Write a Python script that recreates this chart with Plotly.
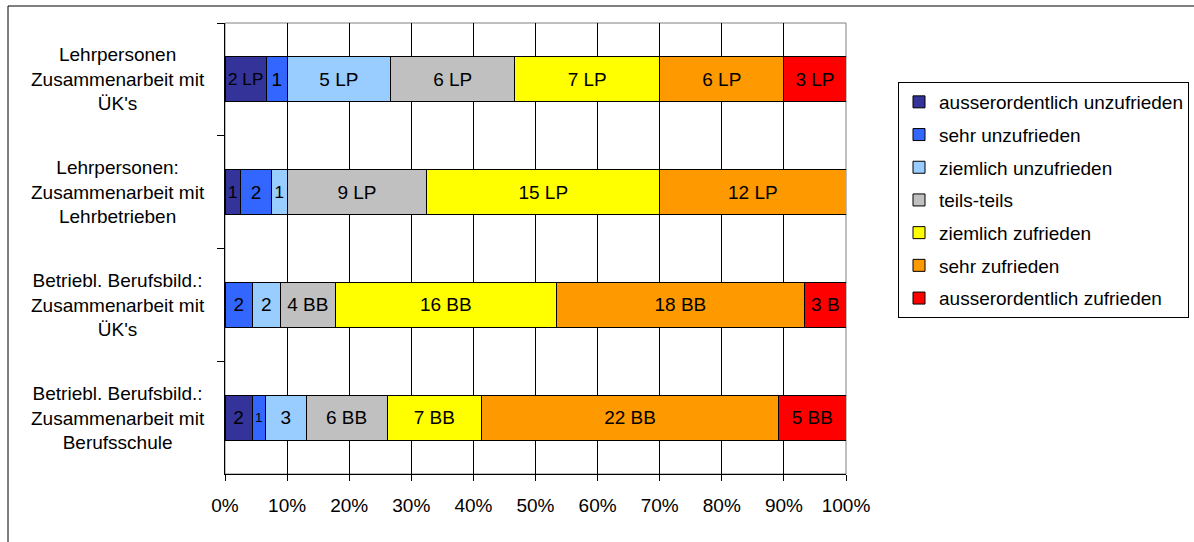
import plotly.graph_objects as go

categories = [
    "Lehrpersonen<br>Zusammenarbeit mit<br>ÜK's",
    "Lehrpersonen:<br>Zusammenarbeit mit<br>Lehrbetrieben",
    "Betriebl. Berufsbild.:<br>Zusammenarbeit mit<br>ÜK's",
    "Betriebl. Berufsbild.:<br>Zusammenarbeit mit<br>Berufsschule",
]

levels = [
    "ausserordentlich unzufrieden",
    "sehr unzufrieden",
    "ziemlich unzufrieden",
    "teils-teils",
    "ziemlich zufrieden",
    "sehr zufrieden",
    "ausserordentlich zufrieden",
]
colors = ["#333399", "#3366FF", "#99CCFF", "#C0C0C0", "#FFFF00", "#FF9900", "#FF0000"]

ao_unzufrieden = [2, 1, 0, 2]
sehr_unzufrieden = [1, 2, 2, 1]
ziemlich_unzufrieden = [5, 1, 2, 3]
teils_teils = [6, 9, 4, 6]
ziemlich_zufrieden = [7, 15, 16, 7]
sehr_zufrieden = [6, 12, 18, 22]
ao_zufrieden = [3, 0, 3, 5]

lbl_ao_unz = ["2 LP", "1", "", "2"]
lbl_sehr_unz = ["1", "2", "2", "1"]
lbl_zieml_unz = ["5 LP", "1", "2", "3"]
lbl_teils = ["6 LP", "9 LP", "4 BB", "6 BB"]
lbl_zieml_zuf = ["7 LP", "15 LP", "16 BB", "7 BB"]
lbl_sehr_zuf = ["6 LP", "12 LP", "18 BB", "22 BB"]
lbl_ao_zuf = ["3 LP", "", "3 B", "5 BB"]

series = [ao_unzufrieden, sehr_unzufrieden, ziemlich_unzufrieden, teils_teils,
          ziemlich_zufrieden, sehr_zufrieden, ao_zufrieden]
labels = [lbl_ao_unz, lbl_sehr_unz, lbl_zieml_unz, lbl_teils,
          lbl_zieml_zuf, lbl_sehr_zuf, lbl_ao_zuf]

FONT = "Liberation Sans, Arial, sans-serif"
FS = 19

fig = go.Figure()
for name, vals, txt, col in zip(levels, series, labels, colors):
    fig.add_trace(go.Bar(
        y=categories, x=vals, name=name, orientation="h",
        text=txt, textposition="inside", insidetextanchor="middle",
        textangle=0,
        textfont=dict(family=FONT, size=FS, color="black"),
        marker=dict(color=col, line=dict(color="black", width=1)),
        legendgroup=name, hoverinfo="skip",
    ))

W, H = 1194, 542
L, R, T, B = 225, 348, 23, 68
pw, ph = W - L - R, H - T - B

def px_x(x):
    return (x - L) / pw

def px_y(y):
    return 1 - (y - T) / ph

annotations = []
for c in categories:
    annotations.append(dict(
        x=px_x(118), xref="paper", xanchor="center",
        y=c, yref="y", yanchor="middle",
        text=c, showarrow=False, align="center",
        font=dict(family=FONT, size=FS, color="black"),
    ))

shapes = [
    dict(type="rect", xref="paper", yref="paper", x0=0, x1=1, y0=0, y1=1,
         line=dict(color="#808080", width=1), layer="below"),
    dict(type="rect", xref="paper", yref="paper",
         x0=px_x(8), x1=px_x(W + 20), y0=px_y(H + 20), y1=px_y(6),
         line=dict(color="black", width=1), layer="below"),
]

fig.update_layout(
    width=W, height=H,
    margin=dict(l=L, r=R, t=T, b=B, pad=0, autoexpand=False),
    barmode="stack", barnorm="percent", bargap=0.6,
    plot_bgcolor="white", paper_bgcolor="white",
    font=dict(family=FONT, size=FS, color="black"),
    showlegend=True,
    legend=dict(
        x=px_x(898), y=px_y(82), xanchor="left", yanchor="top",
        xref="paper", yref="paper",
        traceorder="grouped", tracegroupgap=5,
        bordercolor="black", borderwidth=1, bgcolor="white",
        font=dict(family=FONT, size=FS, color="black"),
        itemwidth=30,
    ),
    xaxis=dict(
        range=[0, 100], dtick=10, ticksuffix="%",
        showgrid=True, gridcolor="black", gridwidth=1,
        showline=True, linecolor="black", linewidth=1,
        ticks="outside", ticklen=6, tickcolor="black",
        ticklabelstandoff=8, zeroline=False,
        tickfont=dict(family=FONT, size=FS, color="black"),
    ),
    yaxis=dict(
        type="category", autorange="reversed",
        showticklabels=False, showgrid=False,
        showline=True, linecolor="black", linewidth=1,
        ticks="outside", tickson="boundaries", ticklen=7, tickcolor="black",
    ),
    annotations=annotations,
    shapes=shapes,
)

fig.write_html(
    "out.html",
    config={"displayModeBar": False},
    post_script="document.body.style.margin='0px';document.body.style.overflow='hidden';",
)
